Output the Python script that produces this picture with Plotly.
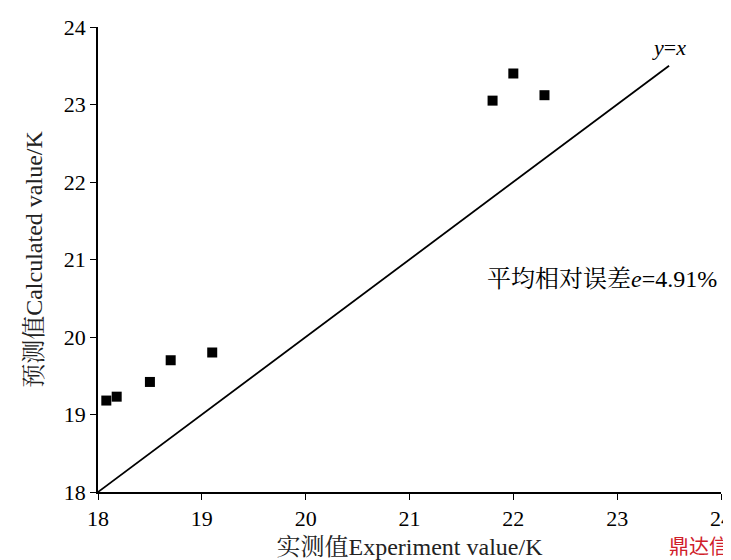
import plotly.graph_objects as go

exp_x = [18.08, 18.18, 18.5, 18.7, 19.1, 21.8, 22.0, 22.3]
calc_y = [19.18, 19.23, 19.42, 19.7, 19.8, 23.05, 23.4, 23.12]
line_x = [18, 23.5]
ticks = [18, 19, 20, 21, 22, 23, 24]

font = "Liberation Serif, Noto Serif CJK SC, Noto Sans CJK SC"
fig = go.Figure()
fig.add_trace(go.Scatter(x=line_x, y=line_x, mode="lines", line=dict(color="black", width=1.8)))
fig.add_trace(go.Scatter(x=exp_x, y=calc_y, mode="markers",
                         marker=dict(symbol="square", size=10, color="black")))
ax = dict(range=[18, 24], tickvals=ticks, showgrid=False, zeroline=False, showline=True,
          linecolor="black", linewidth=1.5, ticks="outside", ticklen=6, tickcolor="black",
          tickfont=dict(size=22, color="black", family=font), automargin=False)
fig.update_xaxes(**ax, title=dict(text="实测值Experiment value/K", font=dict(size=24, color="#222", family=font), standoff=8))
fig.update_yaxes(**ax, title=dict(text="预测值Calculated value/K", font=dict(size=24, color="#222", family=font), standoff=14))
fig.add_annotation(x=23.5, y=23.55, text="<i>y</i>=<i>x</i>", showarrow=False,
                   xanchor="center", yanchor="bottom", font=dict(size=22, color="black", family=font))
fig.add_annotation(x=24, y=20.75, showarrow=False, xanchor="right", xshift=-2,
                   text="平均相对误差<span style='font-family:Liberation Serif'><i>e</i>=4.91%</span>",
                   font=dict(size=24, color="black", family=font))
fig.add_annotation(x=1.0, y=0, xref="paper", yref="paper", yshift=-70, xshift=10, text="鼎达信",
                   showarrow=False, xanchor="right", font=dict(size=20, color="#d0202a", family="Noto Sans CJK SC"))
fig.update_layout(width=731, height=560, showlegend=False, plot_bgcolor="white", paper_bgcolor="white",
                  margin=dict(l=90, r=18, t=19, b=76))
fig.write_html("out.html")
